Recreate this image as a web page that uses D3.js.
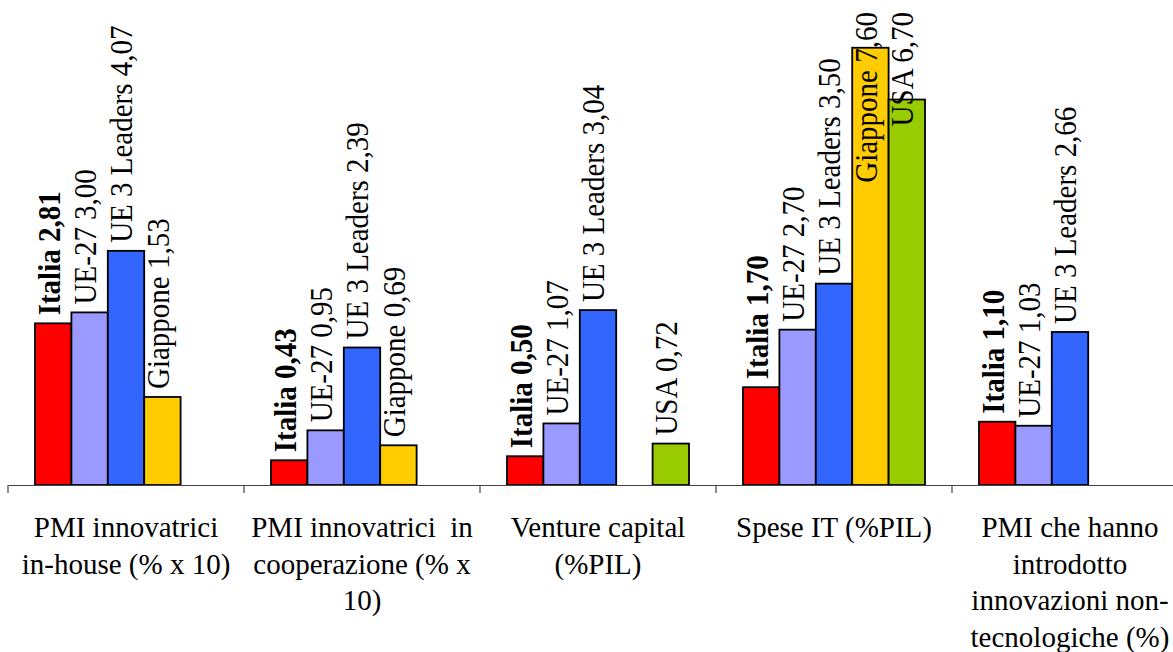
<!DOCTYPE html>
<html><head><meta charset="utf-8">
<script src="https://cdn.jsdelivr.net/npm/d3@7"></script>
<style>body{margin:0;background:#fff}svg{display:block}</style>
</head><body>
<script>
const categories = [
  ["PMI innovatrici", "in-house (% x 10)"],
  ["PMI innovatrici  in", "cooperazione (% x", "10)"],
  ["Venture capital", "(%PIL)"],
  ["Spese IT (%PIL)"],
  ["PMI che hanno", "introdotto", "innovazioni non-", "tecnologiche (%)"]
];
const seriesNames = ["Italia", "UE-27", "UE 3 Leaders", "Giappone", "USA"];
const seriesColors = ["#FF0000", "#9999FF", "#3366FF", "#FFCC00", "#99CC00"];
const italia   = [2.81, 0.43, 0.50, 1.70, 1.10];
const ue27     = [3.00, 0.95, 1.07, 2.70, 1.03];
const ue3      = [4.07, 2.39, 3.04, 3.50, 2.66];
const giappone = [1.53, 0.69, null, 7.60, null];
const usa      = [null, null, 0.72, 6.70, null];
const seriesValues = [italia, ue27, ue3, giappone, usa];

const W = 1173, H = 652;
const svg = d3.select("body").append("svg").attr("width", W).attr("height", H);

const catIdx = d3.range(categories.length);
const x0 = d3.scaleBand().domain(catIdx).range([8, 1188]).padding(0);
const x1 = d3.scaleBand().domain(seriesNames).range([27, 209]).padding(0);
const y = d3.scaleLinear().domain([0, 8.43]).range([485, 0]);

const fmt = v => v.toFixed(2).replace(".", ",");

const data = [];
catIdx.forEach(ci => seriesNames.forEach((s, si) => {
  const v = seriesValues[si][ci];
  if (v != null) data.push({ci, s, si, v});
}));

svg.append("g").selectAll("rect").data(data).join("rect")
  .attr("x", d => x0(d.ci) + x1(d.s))
  .attr("y", d => y(d.v))
  .attr("width", x1.bandwidth())
  .attr("height", d => y(0) - y(d.v))
  .attr("fill", d => seriesColors[d.si])
  .attr("stroke", "#000").attr("stroke-width", 1.8);

// axis
const axis = d3.axisBottom(x0).tickSize(0).tickFormat("");
const gAx = svg.append("g").attr("transform", `translate(0,${y(0)})`).call(axis);
gAx.select(".domain").attr("stroke", "#444").attr("stroke-width", 1.2);
gAx.selectAll(".tick").remove();
gAx.selectAll("line.sep").data(catIdx.concat([categories.length])).join("line")
  .attr("class", "sep")
  .attr("x1", i => i < categories.length ? x0(i) : x0.range()[1])
  .attr("x2", i => i < categories.length ? x0(i) : x0.range()[1])
  .attr("y1", 0).attr("y2", 8).attr("stroke", "#444").attr("stroke-width", 1.2);

// value labels
const lab = svg.append("g");
data.forEach(d => {
  const cx = x0(d.ci) + x1(d.s) + x1.bandwidth() / 2;
  const t = lab.append("text")
    .attr("font-family", "'Liberation Serif', 'Times New Roman', serif")
    .attr("font-size", 29)
    .attr("fill", "#000")
    .attr("dy", "0.2em");
  if (d.s === "Italia") t.attr("font-weight", "bold");
  t.text(`${d.s} ${fmt(d.v)}`);
  const len = t.node().getComputedTextLength();
  const start = Math.max(y(d.v) - 8, 12 + len);
  t.attr("transform", `translate(${cx},${start}) rotate(-90) scale(1,1.1)`);
});

// category labels
const cl = svg.append("g");
categories.forEach((lines, ci) => {
  const cx = x0(ci) + x0.bandwidth() / 2;
  lines.forEach((ln, li) => {
    cl.append("text")
      .attr("x", cx).attr("y", 537 + li * 36.5)
      .attr("text-anchor", "middle")
      .attr("font-family", "'Liberation Serif', 'Times New Roman', serif")
      .attr("font-size", 29)
      .attr("fill", "#000")
      .style("white-space", "pre")
      .text(ln);
  });
});
</script>
</body></html>
